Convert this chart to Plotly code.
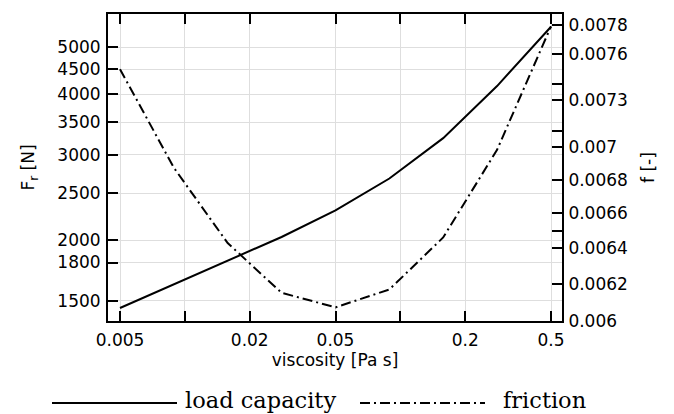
import plotly.graph_objects as go

# ---- data ----
viscosity = [0.005, 0.0089, 0.0158, 0.0281, 0.05, 0.0889, 0.158, 0.281, 0.5]
load_capacity = [1451, 1622, 1813, 2032, 2306, 2681, 3246, 4155, 5506]
friction = [0.00750, 0.006872, 0.006429, 0.006152, 0.006073, 0.006170, 0.006461, 0.006983, 0.007790]

x_tickvals = [0.005, 0.02, 0.05, 0.2, 0.5]
x_ticktext = ["0.005", "0.02", "0.05", "0.2", "0.5"]
x_minor_tickvals = [0.01, 0.1]
y_tickvals = [1500, 1800, 2000, 2500, 3000, 3500, 4000, 4500, 5000]
y_ticktext = ["1500", "1800", "2000", "2500", "3000", "3500", "4000", "4500", "5000"]
y2_tickvals = [0.006, 0.0062, 0.0064, 0.0066, 0.0068, 0.007, 0.0073, 0.0076, 0.0078]
y2_ticktext = ["0.006", "0.0062", "0.0064", "0.0066", "0.0068", "0.007", "0.0073", "0.0076", "0.0078"]
y2_minor_tickvals = [0.0065, 0.0071, 0.0074]

series_names = ["load capacity", "friction"]

# ---- layout geometry (pixels) ----
W, H = 674, 414
ML, MR, MT, MB = 108, 112, 14, 93
PW, PH = W - ML - MR, H - MT - MB

DASHDOT = "10px,4px,2px,4px"
TICKFONT = dict(family="DejaVu Sans", size=17, color="black")
GRID = "#dedede"

fig = go.Figure()
fig.add_trace(go.Scatter(x=viscosity, y=load_capacity, mode="lines", name=series_names[0],
                         line=dict(color="black", width=2), showlegend=False))
fig.add_trace(go.Scatter(x=viscosity, y=friction, mode="lines", name=series_names[1], yaxis="y2",
                         line=dict(color="black", width=2, dash=DASHDOT), showlegend=False))

axis_common = dict(ticks="inside", ticklen=10, tickwidth=2, tickcolor="black",
                   showline=True, linewidth=2, linecolor="black", tickfont=TICKFONT)

fig.update_layout(
    width=W, height=H,
    margin=dict(l=ML, r=MR, t=MT, b=MB),
    paper_bgcolor="white", plot_bgcolor="white",
    font=dict(family="DejaVu Sans", size=17, color="black"),
    xaxis=dict(type="log", range=[-2.3567, -0.2500], tickmode="array",
               tickvals=x_tickvals, ticktext=x_ticktext, mirror="ticks",
               showgrid=True, gridcolor=GRID, gridwidth=1, ticklabelstandoff=3,
               minor=dict(tickmode="array", tickvals=x_minor_tickvals, ticks="inside",
                          ticklen=10, tickwidth=2, tickcolor="black",
                          showgrid=True, gridcolor=GRID, gridwidth=1),
               title=dict(text="viscosity [Pa s]", standoff=2, font=TICKFONT),
               **axis_common),
    yaxis=dict(type="log", range=[3.1349, 3.7670], tickmode="array",
               tickvals=y_tickvals, ticktext=y_ticktext, ticklabelstandoff=2,
               showgrid=True, gridcolor=GRID, gridwidth=1,
               title=dict(text="F<sub>r</sub> [N]", standoff=18, font=TICKFONT),
               **axis_common),
    yaxis2=dict(type="log", range=[-2.22185, -2.10368], overlaying="y", side="right",
                tickmode="array", tickvals=y2_tickvals, ticktext=y2_ticktext,
                showgrid=False, ticklabelstandoff=1,
                minor=dict(tickmode="array", tickvals=y2_minor_tickvals, ticks="inside",
                           ticklen=10, tickwidth=2, tickcolor="black", showgrid=False),
                title=dict(text="f [-]", standoff=15, font=TICKFONT),
                **axis_common),
)

# ---- custom legend below the plot ----
def px_x(p):
    return (p - ML) / PW

def px_y(p):
    return (H - MB - p) / PH

legend_y = 403
fig.add_shape(type="line", xref="paper", yref="paper",
              x0=px_x(52), x1=px_x(177), y0=px_y(legend_y), y1=px_y(legend_y),
              line=dict(color="black", width=2))
fig.add_shape(type="line", xref="paper", yref="paper",
              x0=px_x(360), x1=px_x(485), y0=px_y(legend_y), y1=px_y(legend_y),
              line=dict(color="black", width=2, dash=DASHDOT))
legfont = dict(family="DejaVu Serif", size=22.5, color="black")
fig.add_annotation(text=series_names[0], xref="paper", yref="paper", x=px_x(183), y=px_y(400),
                   xanchor="left", yanchor="middle", showarrow=False, font=legfont)
fig.add_annotation(text=series_names[1], xref="paper", yref="paper", x=px_x(501), y=px_y(400),
                   xanchor="left", yanchor="middle", showarrow=False, font=legfont)

fig.write_html("out.html")
